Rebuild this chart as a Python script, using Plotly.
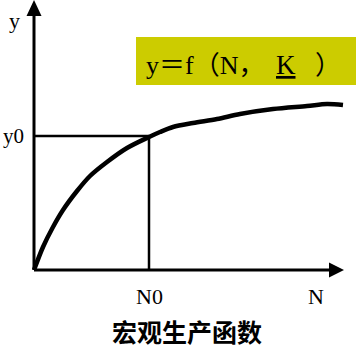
import plotly.graph_objects as go

# curve of the macro production function (N, y)
curve_n = [0, 9, 19, 29, 43, 56, 73, 93, 115, 126, 139, 159, 183, 206, 239, 273, 293, 309]
curve_y = [0, 23, 43, 60, 79, 94, 108, 122, 133, 138, 143, 147, 151, 156, 161, 164, 166, 165]

n0 = 115
y0 = 134

tick_labels = {"N0": n0, "N": 282}
y_labels = {"y0": y0, "y": 250}
title_text = "宏观生产函数"
formula_parts = ["y＝f（N，", "K", "）"]

fig = go.Figure()

fig.add_trace(go.Scatter(
    x=curve_n, y=curve_y, mode="lines",
    line=dict(color="black", width=4.5, shape="spline", smoothing=0.9),
    hoverinfo="skip", showlegend=False,
))

serif = "Liberation Serif, Noto Sans CJK SC"

shapes = [
    # axes
    dict(type="line", x0=0, y0=0, x1=0, y1=256, line=dict(color="black", width=3)),
    dict(type="line", x0=0, y0=0, x1=298, y1=0, line=dict(color="black", width=3)),
    # arrow heads
    dict(type="path", path="M -7.5,254 L 7.5,254 L 0,270 Z", fillcolor="black", line=dict(width=0)),
    dict(type="path", path="M 295,7.5 L 295,-7.5 L 310,0 Z", fillcolor="black", line=dict(width=0)),
    # guide lines
    dict(type="line", x0=0, y0=y0, x1=n0, y1=y0, line=dict(color="black", width=2.5)),
    dict(type="line", x0=n0, y0=0, x1=n0, y1=y0, line=dict(color="black", width=2.5)),
    # yellow box
    dict(type="rect", x0=102, y0=185, x1=322, y1=233, fillcolor="#CCCC00", line=dict(width=0), layer="below"),
]

fsz = 26
annotations = [
    dict(x=110, y=205, text=formula_parts[0], showarrow=False, xanchor="left", yanchor="middle",
         font=dict(family=serif, size=fsz, color="black")),
    dict(x=252, y=205, text="<u>" + formula_parts[1] + "</u>", showarrow=False, xanchor="center", yanchor="middle",
         font=dict(family=serif, size=fsz + 1, color="black")),
    dict(x=279, y=205, text=formula_parts[2], showarrow=False, xanchor="left", yanchor="middle",
         font=dict(family=serif, size=fsz, color="black")),
    dict(x=-20, y=y_labels["y"], text="y", showarrow=False, xanchor="center", yanchor="middle",
         font=dict(family=serif, size=22, color="black")),
    dict(x=-21, y=y_labels["y0"], text="y0", showarrow=False, xanchor="center", yanchor="middle",
         font=dict(family=serif, size=21, color="black")),
    dict(x=tick_labels["N0"], y=-26, text="N0", showarrow=False, xanchor="center", yanchor="middle",
         font=dict(family=serif, size=22, color="black")),
    dict(x=tick_labels["N"], y=-26, text="N", showarrow=False, xanchor="center", yanchor="middle",
         font=dict(family=serif, size=22, color="black")),
    dict(x=153, y=-61, text="<b>" + title_text + "</b>", showarrow=False, xanchor="center", yanchor="middle",
         font=dict(family="Noto Sans CJK SC", size=25, color="black")),
]

fig.update_layout(
    width=357, height=350,
    margin=dict(l=0, r=0, t=0, b=0),
    paper_bgcolor="white", plot_bgcolor="white",
    xaxis=dict(range=[-34, 323], visible=False, fixedrange=True),
    yaxis=dict(range=[-80, 270], visible=False, fixedrange=True),
    shapes=shapes, annotations=annotations,
    showlegend=False,
)

fig.write_html("out.html")
